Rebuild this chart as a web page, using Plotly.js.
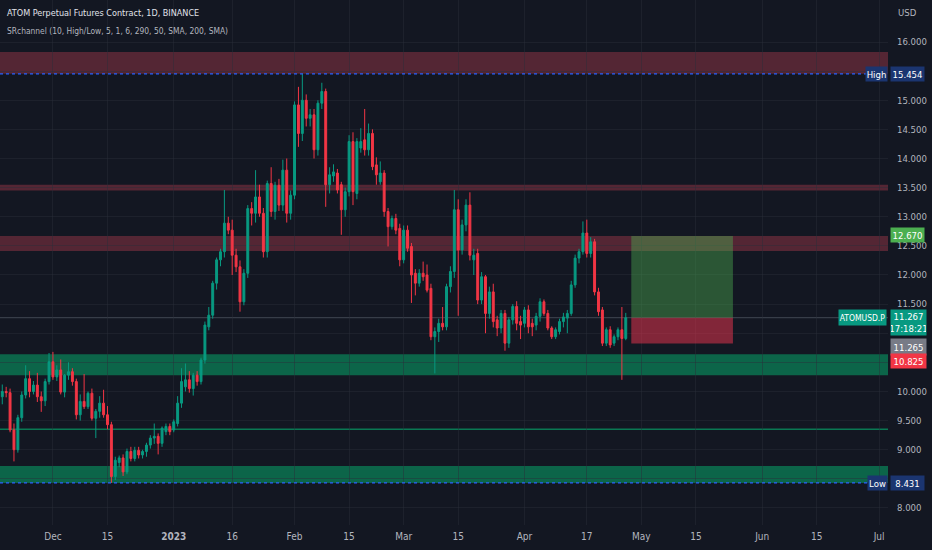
<!DOCTYPE html>
<html><head><meta charset="utf-8">
<script src="https://cdn.plot.ly/plotly-3.0.1.min.js"></script>
<style>html,body{margin:0;padding:0;background:#131722;}#chart{width:932px;height:550px;}</style>
</head><body><div id="chart"></div>
<script>
const startDate = "2022-11-18";
const openP = [
 9.91,10.00,9.98,9.34,9.00,9.55,9.94,10.22,10.00,10.11,9.91,9.84,10.17,
 10.51,10.25,10.37,9.99,10.28,10.34,10.17,9.60,9.83,9.74,9.97,9.54,9.66,9.80,9.60,9.43,8.54,8.78,8.86,8.62,8.97,8.85,8.99,8.91,8.97,9.08,9.20,9.23,9.11,9.31,9.40,
 9.34,9.45,9.80,10.08,10.20,10.05,10.28,10.17,10.54,11.11,11.31,11.86,12.26,12.40,12.89,12.77,12.34,12.14,11.54,12.03,13.14,13.06,13.34,13.06,12.40,13.57,13.09,13.54,13.20,13.80,13.06,
 13.37,14.92,14.43,15.00,14.69,14.75,14.15,14.95,15.15,13.55,13.70,13.75,13.55,13.12,13.43,14.29,13.40,14.18,14.32,14.15,14.43,13.89,13.60,13.75,13.09,12.83,12.97,12.80,
 12.26,12.77,12.49,12.03,11.86,12.03,12.00,11.77,10.94,11.03,11.17,11.11,11.80,12.06,13.12,12.43,12.86,13.20,12.26,12.37,11.57,11.97,11.34,11.71,11.23,11.09,11.34,10.83,11.23,11.46,11.20,
 11.17,11.40,11.17,11.14,11.29,11.54,11.34,11.09,10.94,11.03,11.20,11.26,11.34,11.83,12.29,12.40,12.72,12.37,12.57,11.71,11.40,10.83,11.06,10.83,10.94,11.06,10.91
];
const highP = [
 10.12,10.08,10.05,9.45,9.60,10.00,10.45,10.35,10.18,10.32,10.00,10.22,10.66,
 10.68,10.45,10.55,10.30,10.50,10.40,10.22,9.95,10.30,10.00,10.05,9.70,9.92,10.03,9.75,9.48,8.88,8.90,8.92,9.02,9.05,9.05,9.05,9.00,9.12,9.25,9.45,9.28,9.40,9.45,9.45,
 9.52,9.92,10.40,10.48,10.35,10.32,10.35,10.58,11.20,11.45,11.90,12.30,12.45,13.46,13.00,12.95,12.45,12.25,12.10,13.20,13.25,13.80,13.55,13.15,13.62,13.85,13.60,13.65,13.98,14.00,13.45,
 14.98,15.23,15.454,15.10,14.85,14.85,15.00,15.30,15.20,13.85,13.90,13.82,13.60,13.50,14.40,14.45,14.35,14.52,14.85,14.60,14.50,14.02,13.95,13.80,13.15,13.02,13.05,12.88,
 12.85,12.85,12.55,12.10,12.10,12.23,12.18,11.85,11.10,11.25,11.45,11.85,12.15,13.46,13.30,12.95,13.30,13.42,12.45,12.45,12.05,12.00,11.80,11.85,11.30,11.40,11.40,11.28,11.50,11.55,11.30,
 11.45,11.48,11.25,11.35,11.60,11.58,11.40,11.12,11.10,11.25,11.35,11.40,11.90,12.35,12.45,12.92,12.95,12.65,12.62,11.78,11.45,11.10,11.12,10.98,11.10,11.45,11.35
];
const lowP = [
 9.78,9.90,9.30,8.80,8.95,9.48,9.88,9.90,9.95,9.82,9.65,9.75,10.12,
 10.20,10.18,9.95,9.90,10.20,10.10,9.52,9.50,9.70,9.70,9.50,9.20,9.55,9.55,9.35,8.431,8.48,8.70,8.55,8.58,8.80,8.80,8.85,8.85,8.88,9.02,9.10,8.92,9.05,9.25,9.25,
 9.30,9.40,9.72,10.00,9.98,9.93,10.10,10.12,10.48,11.05,11.25,11.75,12.15,12.30,12.70,12.00,12.05,11.37,11.48,11.95,12.85,12.90,13.00,12.30,12.30,13.00,12.95,13.10,13.10,12.90,12.95,
 13.30,14.20,14.30,14.55,14.55,14.00,14.05,14.85,13.17,13.40,13.60,13.40,12.69,13.00,13.35,13.20,13.30,14.10,14.05,14.05,13.80,13.55,13.55,13.00,12.49,12.78,12.70,12.15,
 12.20,12.40,11.52,11.65,11.80,11.90,11.70,10.88,10.31,10.85,11.05,11.05,11.70,11.95,11.30,12.35,12.75,12.25,12.00,11.50,11.50,11.00,11.25,11.10,10.95,11.00,10.70,10.75,11.15,11.05,10.90,
 11.10,11.00,10.95,11.05,11.20,11.30,11.05,10.90,10.90,10.98,11.10,11.00,11.30,11.78,12.20,12.35,12.30,12.30,11.65,11.30,10.78,10.78,10.75,10.78,10.88,10.20,10.88
];
const closeP = [
 10.00,9.98,9.34,9.00,9.55,9.94,10.22,10.00,10.11,9.91,9.84,10.17,10.51,
 10.25,10.37,9.99,10.28,10.34,10.17,9.60,9.83,9.74,9.97,9.54,9.66,9.80,9.60,9.43,8.54,8.82,8.86,8.62,8.97,8.85,8.99,8.91,8.97,9.08,9.20,9.23,9.11,9.37,9.40,9.31,
 9.48,9.80,10.17,10.20,10.05,10.28,10.17,10.54,11.14,11.31,11.86,12.26,12.40,12.89,12.77,12.34,12.14,11.54,12.03,13.14,13.06,13.34,13.06,12.40,13.57,13.09,13.54,13.20,13.80,13.06,13.37,
 14.92,14.43,15.00,14.69,14.75,14.15,14.95,15.15,13.55,13.72,13.77,13.46,13.12,13.43,14.29,13.43,14.29,14.29,14.15,14.43,13.86,13.72,13.75,13.09,12.83,12.97,12.77,12.26,
 12.77,12.46,12.00,11.86,12.03,11.97,11.74,10.94,11.03,11.17,11.11,11.80,12.06,13.12,12.43,12.86,13.20,12.34,12.34,11.57,11.97,11.34,11.71,11.20,11.09,11.34,10.83,11.23,11.46,11.17,11.14,
 11.40,11.11,11.11,11.29,11.54,11.34,11.09,10.94,11.06,11.20,11.28,11.34,11.83,12.29,12.40,12.72,12.37,12.57,11.71,11.37,10.83,11.06,10.80,10.94,11.06,10.91,11.267
];
// support / resistance zones [bottom, top]
const redZones = [[15.454, 15.83], [13.45, 13.55], [12.41, 12.67]];
const greenZones = [[10.28, 10.64], [8.431, 8.72]];
const greenLine = 9.35;
const highVal = 15.454, lowVal = 8.431;
const lastPrice = 11.267, bidPrice = 11.265;
const target = 12.670, stop = 10.825;
const countdown = "17:18:21";
const symbol = "ATOMUSD.P";
const posStart = "2023-04-28 10:00", posEnd = "2023-05-24 12:00";
const xTickVals = ["2022-12-01","2022-12-15","2023-01-01","2023-01-16","2023-02-01","2023-02-15","2023-03-01","2023-03-15","2023-04-01","2023-04-17","2023-05-01","2023-05-15","2023-06-01","2023-06-15","2023-07-01"];
const xTickText = ["Dec","15","<b>2023</b>","16","Feb","15","Mar","15","Apr","17","May","15","Jun","15","Jul"];
const yTickVals = [8,8.5,9,9.5,10,10.5,11,11.5,12,12.5,13,13.5,14,14.5,15,15.5,16];
const yTickHidden = [15.5, 11, 10.5, 8.5];   // covered by price labels in the reference

const dates = [];
{
  const d0 = new Date(startDate + "T00:00:00Z");
  for (let i = 0; i < openP.length; i++) {
    const d = new Date(d0.getTime() + i * 86400000);
    dates.push(d.toISOString().slice(0, 10));
  }
}

const FONT = '"Liberation Sans Narrow", "DejaVu Sans Condensed", "Liberation Sans", Arial, sans-serif';
const UP = '#089981', DOWN = '#f23645', TXT = '#b2b5be', NAVY = '#1b3570';

const trace = {
  type: 'candlestick', x: dates, open: openP, high: highP, low: lowP, close: closeP,
  increasing: {line: {color: UP, width: 1}, fillcolor: UP},
  decreasing: {line: {color: DOWN, width: 1}, fillcolor: DOWN},
  whiskerwidth: 0, hoverinfo: 'none', showlegend: false
};

const shapes = [];
redZones.forEach(z => shapes.push({type:'rect', xref:'paper', x0:0, x1:1, yref:'y', y0:z[0], y1:z[1], fillcolor:'rgba(225,70,90,0.32)', line:{width:0}, layer:'below'}));
greenZones.forEach(z => shapes.push({type:'rect', xref:'paper', x0:0, x1:1, yref:'y', y0:z[0], y1:z[1], fillcolor:'rgba(8,153,100,0.6)', line:{width:0}, layer:'below'}));
shapes.push({type:'line', xref:'paper', x0:0, x1:1, yref:'y', y0:greenLine, y1:greenLine, line:{color:'rgba(8,153,100,0.75)', width:1.5}, layer:'below'});
shapes.push({type:'line', xref:'paper', x0:0, x1:1, yref:'y', y0:lastPrice, y1:lastPrice, line:{color:'rgba(120,130,140,0.45)', width:1}, layer:'below'});
shapes.push({type:'rect', xref:'x', x0:posStart, x1:posEnd, yref:'y', y0:lastPrice, y1:target, fillcolor:'rgba(76,175,80,0.42)', line:{width:0}, layer:'above'});
shapes.push({type:'rect', xref:'x', x0:posStart, x1:posEnd, yref:'y', y0:stop, y1:lastPrice, fillcolor:'rgba(242,54,79,0.5)', line:{width:0}, layer:'above'});
shapes.push({type:'line', xref:'paper', x0:0, x1:1, yref:'y', y0:highVal, y1:highVal, line:{color:'#2962ff', width:1.2, dash:'dot'}});
shapes.push({type:'line', xref:'paper', x0:0, x1:1, yref:'y', y0:lowVal, y1:lowVal, line:{color:'#2962ff', width:1.2, dash:'dot'}});

function axLabel(text, y, bg, opts) {
  return Object.assign({xref:'paper', x:1, xanchor:'left', xshift:2, yref:'y', y:y, yanchor:'middle',
    text:text, showarrow:false, bgcolor:bg, font:{family:FONT, size:9.5, color:'#ffffff'},
    width:33, height:14, align:'center', borderpad:0}, opts || {});
}
const annotations = [
  {xref:'paper', yref:'paper', x:0, xshift:5, y:1, yshift:-6, xanchor:'left', yanchor:'top', showarrow:false,
   text:'ATOM Perpetual Futures Contract, 1D, BINANCE', font:{family:FONT, size:9, color:'#e0e3eb'}},
  {xref:'paper', yref:'paper', x:0, xshift:5, y:1, yshift:-24, xanchor:'left', yanchor:'top', showarrow:false,
   text:'SRchannel (10, High/Low, 5, 1, 6, 290, 50, SMA, 200, SMA)', font:{family:FONT, size:8.4, color:TXT}},
  {xref:'paper', yref:'paper', x:1, xshift:8, y:1, yshift:-5, xanchor:'left', yanchor:'top', showarrow:false,
   text:'USD', font:{family:FONT, size:9.5, color:TXT}},
  axLabel(highVal.toFixed(3), highVal, NAVY),
  axLabel('High', highVal, NAVY, {xanchor:'right', xshift:0, width:21}),
  axLabel(target.toFixed(3), target, '#4caf50', {yshift:1}),
  axLabel(lastPrice.toFixed(3) + '<br>' + countdown, lastPrice, UP, {height:25, yshift:-5, width:35}),
  axLabel(symbol, lastPrice, UP, {xanchor:'right', xshift:-1, width:47, height:15, font:{family:FONT, size:8.5, color:'#ffffff'}}),
  axLabel(bidPrice.toFixed(3), bidPrice, '#787b86', {yshift:-29, height:16, width:35}),
  axLabel(stop.toFixed(3), stop, DOWN, {yshift:-18, width:35}),
  axLabel(lowVal.toFixed(3), lowVal, NAVY),
  axLabel('Low', lowVal, NAVY, {xanchor:'right', xshift:0, width:19})
];

const layout = {
  width: 932, height: 550,
  margin: {l:0, r:44, t:0, b:25},
  paper_bgcolor: '#131722', plot_bgcolor: '#131722',
  font: {family: FONT, color: TXT, size: 10},
  showlegend: false,
  xaxis: {type:'date', range:["2022-11-17 10:00","2023-07-03 07:00"], rangeslider:{visible:false},
    tickmode:'array', tickvals:xTickVals, ticktext:xTickText, showgrid:true, gridcolor:'rgba(42,46,57,0.45)',
    zeroline:false, showline:false, ticks:'', ticklabelstandoff:4, tickfont:{family:FONT, size:10, color:TXT}, fixedrange:true},
  yaxis: {side:'right', range:[7.708, 16.721], tickmode:'array', tickvals:yTickVals,
    ticktext: yTickVals.map(v => yTickHidden.includes(v) ? '' : v.toFixed(3)), showgrid:true, gridcolor:'rgba(42,46,57,0.45)',
    zeroline:false, showline:false, ticks:'', ticklabelstandoff:8, tickfont:{family:FONT, size:9.5, color:TXT}, fixedrange:true},
  shapes: shapes, annotations: annotations
};
Plotly.newPlot('chart', [trace], layout, {displayModeBar:false, staticPlot:true});
</script></body></html>
